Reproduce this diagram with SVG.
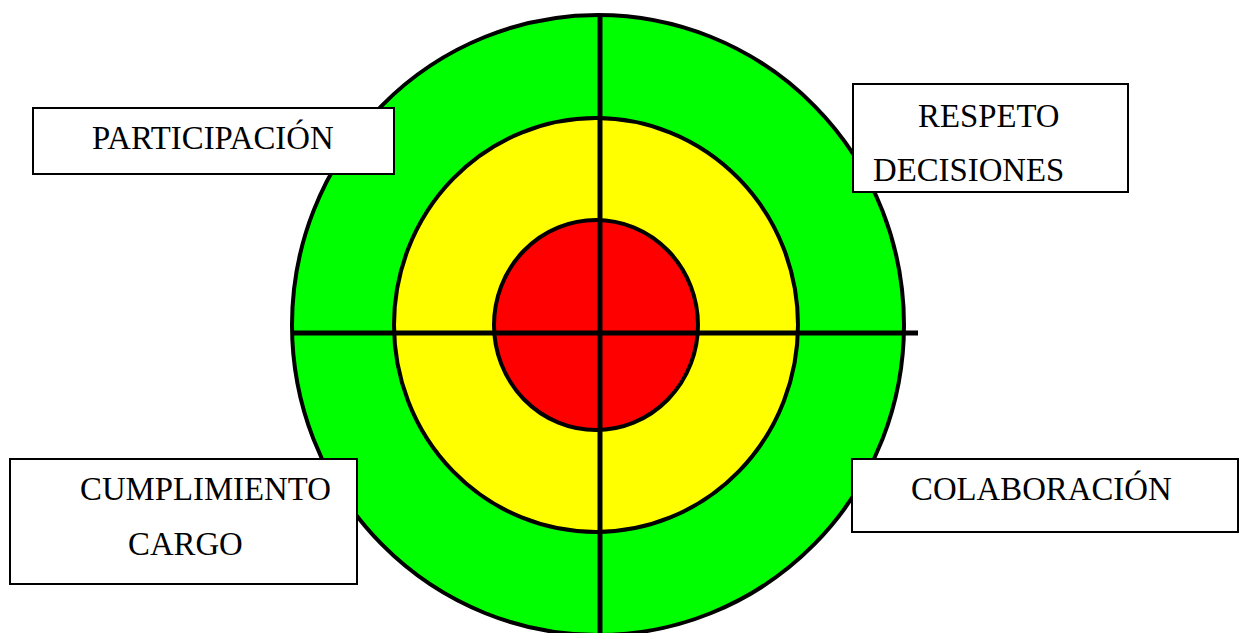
<svg xmlns="http://www.w3.org/2000/svg" width="1241" height="633" viewBox="0 0 1241 633">
<style>
.ring{stroke:#000;stroke-width:4}
.axis{stroke:#000;stroke-width:5;fill:none}
.box{fill:#fff;stroke:#000;stroke-width:2}
.lbl{font-family:"Liberation Serif","Times New Roman",serif;font-size:32.8px;fill:#000}
</style>
<rect width="1241" height="633" fill="#fff"/>
<g id="target">
<ellipse class="ring" cx="598" cy="325" rx="306" ry="310" fill="#00ff00"/>
<ellipse class="ring" cx="596" cy="325" rx="202" ry="207" fill="#ffff00"/>
<ellipse class="ring" cx="596" cy="325" rx="102" ry="105" fill="#ff0000"/>
</g>
<g id="connectors">
<line class="axis" x1="600" y1="16" x2="600" y2="633"/>
<line class="axis" x1="292" y1="333" x2="918" y2="333"/>
</g>
<g id="participacion">
<rect class="box" x="33" y="108" width="361" height="66"/>
<text class="lbl" x="92" y="149">PARTICIPACIÓN</text>
</g>
<g id="respeto">
<rect class="box" x="853" y="84" width="275" height="108"/>
<text class="lbl" x="918" y="127">RESPETO</text>
<text class="lbl" x="873" y="181">DECISIONES</text>
</g>
<g id="cumplimiento">
<rect class="box" x="10" y="459" width="347" height="125"/>
<text class="lbl" x="80" y="500">CUMPLIMIENTO</text>
<text class="lbl" x="128" y="555">CARGO</text>
</g>
<g id="colaboracion">
<rect class="box" x="852" y="459" width="386" height="73"/>
<text class="lbl" x="911" y="500">COLABORACIÓN</text>
</g>
</svg>
